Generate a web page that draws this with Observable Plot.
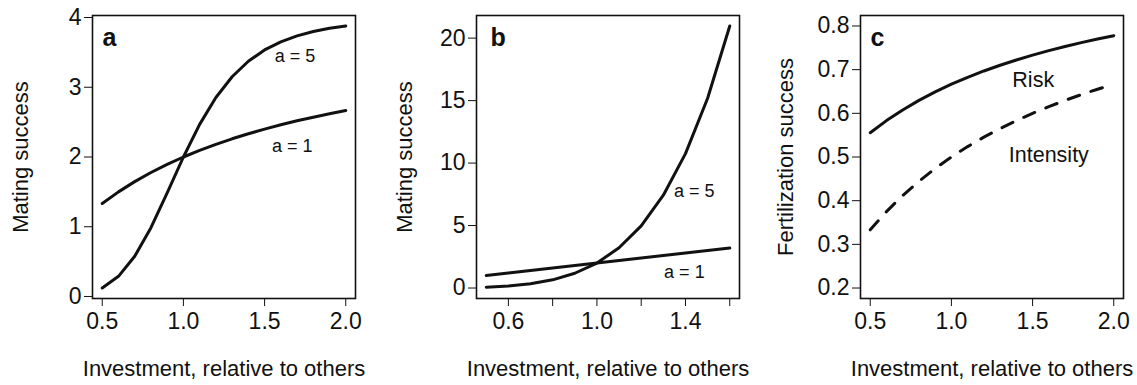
<!DOCTYPE html>
<html><head><meta charset="utf-8">
<script src="https://cdn.jsdelivr.net/npm/d3@7"></script>
<script src="https://cdn.jsdelivr.net/npm/@observablehq/plot@0.6"></script>
<style>
body{margin:0;background:#fff;}
#wrap{display:flex;width:1137px;height:385px;}
</style></head><body><div id="wrap"></div>
<script>
// Panel a: mating success
const invA = [0.5,0.6,0.7,0.8,0.9,1.0,1.1,1.2,1.3,1.4,1.5,1.6,1.7,1.8,1.9,2.0];
const a1A = [1.333,1.5,1.647,1.778,1.895,2.0,2.095,2.182,2.261,2.333,2.4,2.462,2.519,2.571,2.621,2.667];
const a5A = [0.121,0.289,0.576,0.987,1.485,2.0,2.468,2.853,3.151,3.373,3.535,3.652,3.737,3.799,3.845,3.879];
// Panel b
const invB = [0.5,0.6,0.7,0.8,0.9,1.0,1.1,1.2,1.3,1.4,1.5,1.6];
const a1B = [1.0,1.2,1.4,1.6,1.8,2.0,2.2,2.4,2.6,2.8,3.0,3.2];
const a5B = [0.0625,0.156,0.336,0.655,1.181,2.0,3.221,4.977,7.426,10.756,15.188,20.972];
// Panel c
const invC = [0.5,0.6,0.7,0.8,0.9,1.0,1.1,1.2,1.3,1.4,1.5,1.6,1.7,1.8,1.9,2.0];
const riskC = [0.5556,0.5833,0.6078,0.6296,0.6491,0.6667,0.6825,0.697,0.7101,0.7222,0.7333,0.7436,0.7531,0.7619,0.7701,0.7778];
const intensityC = [0.3333,0.375,0.4118,0.4444,0.4737,0.5,0.5238,0.5455,0.5652,0.5833,0.6,0.6154,0.6296,0.6429,0.6552,0.6667];

// Ticks
const xTicksA = [0.5,1.0,1.5,2.0], xLabelsA = ["0.5","1.0","1.5","2.0"];
const yTicksA = [0,1,2,3,4], yLabelsA = ["0","1","2","3","4"];
const xTicksB = [0.6,0.8,1.0,1.2,1.4,1.6], xLabelsB = ["0.6","","1.0","","1.4",""];
const yTicksB = [0,5,10,15,20], yLabelsB = ["0","5","10","15","20"];
const xTicksC = [0.5,1.0,1.5,2.0], xLabelsC = ["0.5","1.0","1.5","2.0"];
const yTicksC = [0.2,0.3,0.4,0.5,0.6,0.7,0.8], yLabelsC = ["0.2","0.3","0.4","0.5","0.6","0.7","0.8"];

// Annotations
const notesA = [{text:"a = 5", x:1.687, y:3.45}, {text:"a = 1", x:1.671, y:2.16}];
const notesB = [{text:"a = 5", x:1.44, y:7.74}, {text:"a = 1", x:1.395, y:1.3}];
const notesC = [{text:"Risk", x:1.504, y:0.675}, {text:"Intensity", x:1.60, y:0.504}];

const xTitle = "Investment, relative to others";
const FONT = "'Liberation Sans', Arial, sans-serif";

function rows(xs, ys) { return xs.map((x, i) => ({x, y: ys[i]})); }

function panel(o) {
  return Plot.plot({
    width: o.width, height: 385,
    marginLeft: o.ml, marginRight: o.mr, marginTop: 15, marginBottom: 87,
    x: {domain: o.xDomain},
    y: {domain: o.yDomain},
    style: {fontFamily: FONT, fontSize: "22px", color: "#111", background: "white", overflow: "visible"},
    marks: [
      Plot.axisX({ticks: o.xTicks, tickFormat: d => o.xLabels[o.xTicks.indexOf(d)], tickSize: 8, tickPadding: 6,
        fontSize: 23, label: null}),
      Plot.axisX({ticks: [], label: xTitle, labelAnchor: "center", labelOffset: 77, labelArrow: "none", fontSize: 22, tickSize: 0}),
      Plot.axisY({ticks: o.yTicks, tickFormat: d => o.yLabels[o.yTicks.indexOf(d)], tickSize: 8, tickPadding: 3,
        fontSize: 23, label: null}),
      Plot.axisY({ticks: [], label: o.yTitle, labelAnchor: "center", labelOffset: o.labelOffY, labelArrow: "none", fontSize: 22, tickSize: 0}),
      ...o.series.map(s => Plot.line(s.data, {x: "x", y: "y", stroke: "#111", strokeWidth: 3,
        strokeDasharray: s.dash, strokeLinecap: "round", strokeLinejoin: "round"})),
      Plot.text(o.notes, {x: "x", y: "y", text: "text", fontSize: o.noteSize, fill: "#111"}),
      Plot.text([o.letter], {frameAnchor: "top-left", dx: o.letterDx, dy: 13, fontWeight: "bold", fontSize: 25, lineAnchor: "top", textAnchor: "start"}),
      Plot.frame({stroke: "#111", strokeWidth: 1.6})
    ]
  });
}

const wrap = document.getElementById("wrap");
wrap.append(panel({
  width: 380, ml: 92, mr: 25, xDomain: [0.44, 2.06], yDomain: [-0.029, 4.029],
  xTicks: xTicksA, xLabels: xLabelsA, yTicks: yTicksA, yLabels: yLabelsA, yTitle: "Mating success", labelOffY: 80,
  series: [{data: rows(invA, a1A)}, {data: rows(invA, a5A)}],
  notes: notesA, noteSize: 18, letter: "a", letterDx: 10
}));
wrap.append(panel({
  width: 380, ml: 96, mr: 21, xDomain: [0.456, 1.644], yDomain: [-0.839, 21.811],
  xTicks: xTicksB, xLabels: xLabelsB, yTicks: yTicksB, yLabels: yLabelsB, yTitle: "Mating success", labelOffY: 80,
  series: [{data: rows(invB, a1B)}, {data: rows(invB, a5B)}],
  notes: notesB, noteSize: 18, letter: "b", letterDx: 14
}));
wrap.append(panel({
  width: 377, ml: 100, mr: 14, xDomain: [0.44, 2.06], yDomain: [0.176, 0.824],
  xTicks: xTicksC, xLabels: xLabelsC, yTicks: yTicksC, yLabels: yLabelsC, yTitle: "Fertilization success", labelOffY: 83,
  series: [{data: rows(invC, riskC)}, {data: rows(invC, intensityC), dash: "12,12"}],
  notes: notesC, noteSize: 21.5, letter: "c", letterDx: 10
}));
</script></body></html>
